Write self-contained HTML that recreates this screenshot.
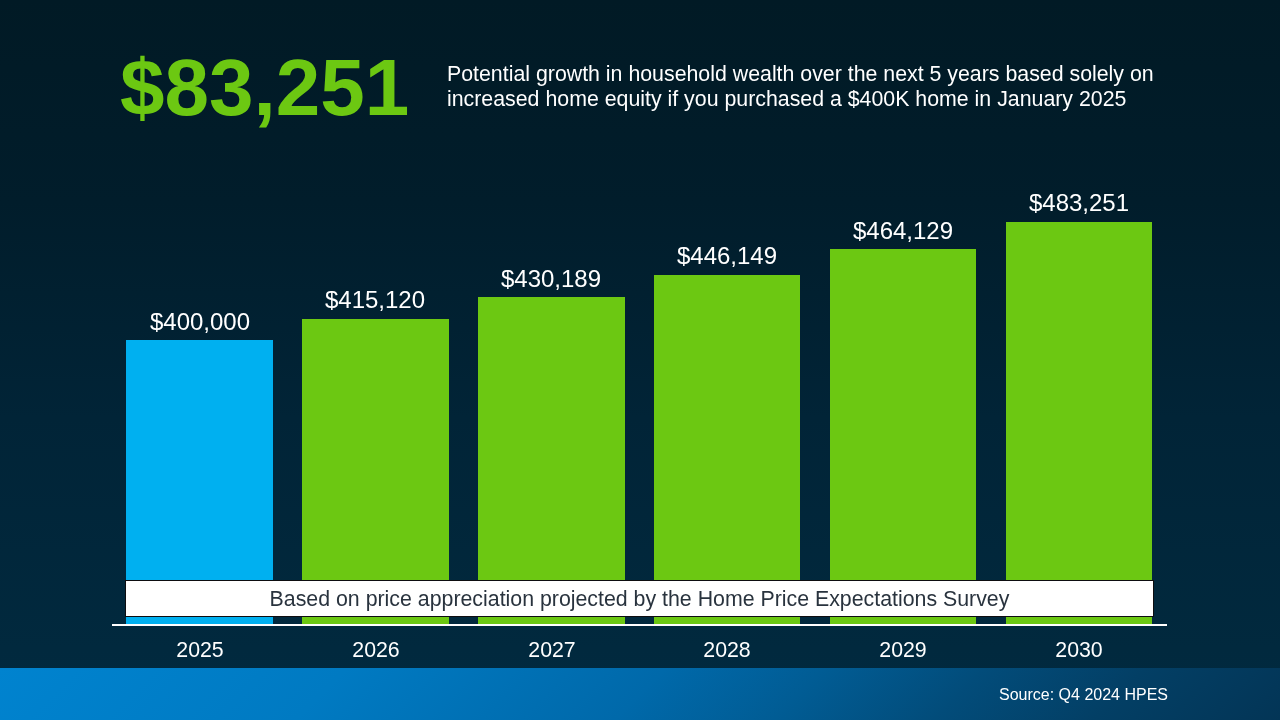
<!DOCTYPE html>
<html lang="en">
<head>
<meta charset="utf-8">
<title>Home Equity Growth</title>
<style>
html,body{margin:0;padding:0;}
body{width:1280px;height:720px;overflow:hidden;position:relative;font-family:"Liberation Sans",sans-serif;color:#fff;
background:linear-gradient(180deg,#011a25 0%,#011d2b 28%,#012437 58%,#01293e 90%,#012a40 100%);}
.abs{position:absolute;}
#big{left:120px;top:42px;font-size:80px;font-weight:bold;color:#6cc812;line-height:92px;white-space:nowrap;}
#desc{left:447px;top:62px;font-size:21.333px;line-height:25.3px;white-space:nowrap;}
.bar{position:absolute;background:#6cc812;width:147px;}
.bar.b{background:#00b0f0;}
.val{position:absolute;width:200px;text-align:center;font-size:24px;line-height:28px;}
.yr{position:absolute;width:200px;text-align:center;font-size:21.333px;line-height:26px;top:637px;}
#axis{left:112px;top:624px;width:1055px;height:2px;background:#fff;}
#note{left:125px;top:580px;width:1027px;height:35px;overflow:hidden;background:#fff;border:1px solid #0d0d10;box-sizing:content-box;color:#29333e;font-size:21.333px;line-height:37px;text-align:center;}
#footer{left:0;top:668px;width:1280px;height:52px;background:linear-gradient(135deg,#0083cf 0%,#007ac2 26%,#0069aa 50%,#015c94 62%,#024c7a 74%,#033f65 86%,#033556 100%);}
#src{right:112px;top:685px;font-size:16px;line-height:20px;white-space:nowrap;}
</style>
</head>
<body>
<div id="big" class="abs">$83,251</div>
<div id="desc" class="abs">Potential growth in household wealth over the next 5 years based solely on<br>increased home equity if you purchased a $400K home in January 2025</div>

<div class="bar b" style="left:126px;top:340px;height:284px;"></div>
<div class="bar" style="left:302px;top:319px;height:305px;"></div>
<div class="bar" style="left:478px;top:297px;height:327px;"></div>
<div class="bar" style="left:654px;top:275px;height:349px;width:146px;"></div>
<div class="bar" style="left:830px;top:249px;height:375px;width:146px;"></div>
<div class="bar" style="left:1006px;top:222px;height:402px;width:146px;"></div>

<div class="val" style="left:100px;top:307.7px;">$400,000</div>
<div class="val" style="left:275px;top:285.7px;">$415,120</div>
<div class="val" style="left:451px;top:264.7px;">$430,189</div>
<div class="val" style="left:627px;top:241.7px;">$446,149</div>
<div class="val" style="left:803px;top:216.7px;">$464,129</div>
<div class="val" style="left:979px;top:188.7px;">$483,251</div>

<div id="note" class="abs">Based on price appreciation projected by the Home Price Expectations Survey</div>
<div id="axis" class="abs"></div>

<div class="yr" style="left:100px;">2025</div>
<div class="yr" style="left:276px;">2026</div>
<div class="yr" style="left:452px;">2027</div>
<div class="yr" style="left:627px;">2028</div>
<div class="yr" style="left:803px;">2029</div>
<div class="yr" style="left:979px;">2030</div>

<div id="footer" class="abs"></div>
<div id="src" class="abs">Source: Q4 2024 HPES</div>
</body>
</html>
